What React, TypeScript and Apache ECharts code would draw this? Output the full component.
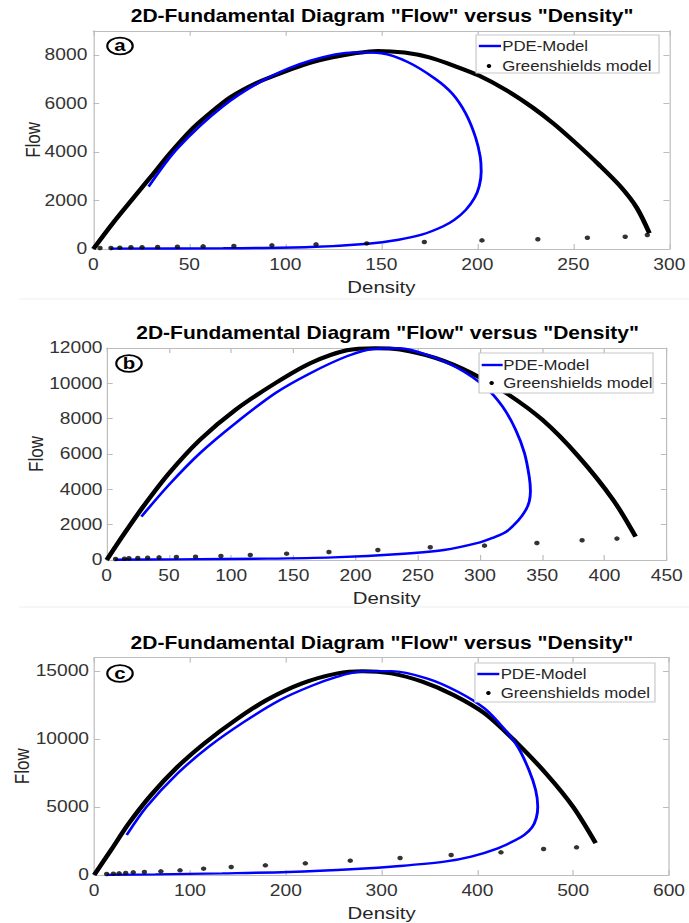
import React, { useEffect, useRef } from "react";
import * as echarts from "echarts";

// ---------------- data ----------------
// Panel (a)
const gsCurveA: number[][] = [[0, 0], [10, 1050], [20.8, 2100], [30, 2980], [40, 3950], [50.8, 4900], [60, 5550], [71.5, 6265], [85, 6850], [99, 7290], [112, 7650], [124.6, 7900], [137, 8080], [148, 8170], [162, 8100], [175, 7900], [188, 7550], [200.8, 7150], [215, 6550], [228.5, 5850], [240, 5150], [251.5, 4350], [263, 3500], [274.6, 2570], [283, 1700], [289.6, 650]];
const pdeA: number[][] = [[28.8, 2570], [43.8, 4145], [67, 5855], [90, 7020], [113, 7770], [136, 8110], [150, 8070], [164, 7700], [178, 7020], [187, 6400], [194, 5580], [199, 4620], [201.5, 3800], [202, 3200], [201, 2600], [198.5, 2100], [194, 1614], [188, 1200], [182, 930], [171, 590], [159, 383], [143, 219], [113, 82], [67, 27], [9, 14]];
const gsDotsA: number[][] = [[3.5, 40], [9.2, 40], [13.8, 55], [19.6, 70], [25.4, 70], [33.5, 80], [43.8, 95], [57.2, 110], [73.2, 125], [93, 150], [116, 190], [142.4, 230], [172.4, 290], [202.4, 355], [231.5, 405], [257.3, 465], [277, 505], [288.5, 575]];

// Panel (b)
const gsCurveB: number[][] = [[0, 0], [14.3, 1512], [28.6, 2950], [50, 4900], [75, 6805], [103.6, 8507], [135.7, 10019], [164, 11153], [193, 11871], [216, 11990], [235.7, 11909], [264, 11437], [293, 10586], [321, 9452], [350, 7940], [378.6, 5900], [407, 3400], [425, 1320]];
const pdeB: number[][] = [[27.9, 2457], [50, 4253], [75, 6049], [103.6, 7750], [135.7, 9452], [164, 10586], [193, 11531], [214, 11947], [235.7, 11990], [257, 11626], [282, 10870], [303.6, 9830], [318, 8696], [328.6, 7372], [335.7, 6049], [339.5, 4726], [340.5, 3900], [339.5, 3300], [336.5, 2800], [331, 2268], [321, 1600], [310, 1250], [300, 1000], [271, 567], [235.7, 340], [182, 151], [128.6, 76], [57, 38], [7, 10]];
const gsDotsB: number[][] = [[7.1, 57], [14.3, 76], [17.9, 95], [25, 113], [32.9, 132], [42.1, 151], [56, 170], [71.4, 189], [91.8, 227], [115.4, 284], [144.6, 359], [178.6, 454], [217.9, 567], [260, 719], [303.6, 813], [345.7, 964], [382, 1115], [410, 1210]];

// Panel (c)
const gsCurveC: number[][] = [[0, 0], [17.6, 1838], [36.2, 3799], [59.4, 5882], [87.2, 7966], [115, 9681], [147.6, 11397], [180, 12868], [217, 14093], [254, 14828], [280, 14990], [310, 14828], [342.5, 14216], [375, 13235], [407.4, 11887], [440, 9800], [472.4, 7400], [500, 5000], [523.4, 2350]];
const pdeC: number[][] = [[33.9, 2941], [54.8, 5024], [87.2, 7475], [119.7, 9436], [156.8, 11275], [194, 12868], [226.5, 13897], [254, 14583], [277.5, 14951], [310, 14990], [347, 14461], [379.6, 13480], [407.4, 12255], [426, 10907], [442, 9436], [453.8, 7721], [460.8, 6250], [463, 5024], [461.5, 4200], [457, 3500], [449, 2950], [440, 2573], [421.3, 1961], [393.5, 1348], [365.7, 980], [319, 662], [272.9, 441], [203, 221], [133.6, 123], [64, 49], [13, 10]];
const gsDotsC: number[][] = [[13, 74], [20, 98], [26, 123], [32.9, 147], [40.8, 196], [52.4, 221], [69.6, 270], [89.6, 343], [114.2, 466], [143, 588], [178.7, 711], [220.4, 858], [267.3, 1054], [319.3, 1250], [372.6, 1471], [424.6, 1667], [469.1, 1912], [503.5, 2034]];

const xMax = [300, 450, 600];
const xInterval = [50, 50, 100];
const yMax = [9000, 12000, 16000];
const yInterval = [2000, 2000, 5000];
const panelLetters = ["a", "b", "c"];
const titleText = '2D-Fundamental Diagram "Flow" versus "Density"';
const xName = "Density";
const yName = "Flow";
const legendNames = ["PDE-Model", "Greenshields model"];

// ---------------- layout ----------------
const S = 1.2; // the reference is horizontally stretched
const W = 689 / S;
const H = 923;
const FONT = "'Liberation Sans', Arial, Helvetica, sans-serif";
const AXC = "#bdbdbd";
const LBL = "#333333";

const grids = [
  { left: 77.75, top: 30.75, width: 481.4, height: 218.25 },
  { left: 88.9, top: 348, width: 466.7, height: 212 },
  { left: 78.5, top: 657.4, width: 479, height: 217.6 },
];
const yNameGap = [41.5, 50.5, 51.5];
const yLabelMargin = [5, 3.5, 4.3];
const titlePos = [
  { x: 318.4, y: 16 },
  { x: 323, y: 333 },
  { x: 318.3, y: 643 },
];
const letterPos = [
  { x: 100, y: 46 },
  { x: 107.5, y: 363.5 },
  { x: 100, y: 673.5 },
];
const legendBox = [
  { x: 396.7, y: 35, w: 152.5, h: 38, r1: 46, r2: 66, l1: 399, l2: 417.5, dot: 407.5, tx: 418.5 },
  { x: 399.2, y: 353, w: 145, h: 40, r1: 365, r2: 383, l1: 401.4, l2: 418.9, dot: 409.7, tx: 419.4 },
  { x: 395.8, y: 663, w: 150, h: 39, r1: 674, r2: 693, l1: 397.8, l2: 416.1, dot: 407, tx: 417.2 },
];

function buildOption() {
  const xAxis: any[] = [];
  const yAxis: any[] = [];
  const series: any[] = [];
  const graphic: any[] = [];
  const curves = [gsCurveA, gsCurveB, gsCurveC];
  const pdes = [pdeA, pdeB, pdeC];
  const dots = [gsDotsA, gsDotsB, gsDotsC];
  const plain = (v: number) => String(v);

  for (let i = 0; i < 3; i++) {
    const common = {
      gridIndex: i,
      type: "value",
      min: 0,
      splitLine: { show: false },
      axisLine: { show: true, onZero: false, lineStyle: { color: AXC, width: 1 } },
      axisTick: { show: true, inside: true, length: 5, lineStyle: { color: AXC, width: 1 } },
    };
    xAxis.push({
      ...common,
      max: xMax[i],
      interval: xInterval[i],
      position: "bottom",
      axisLabel: { color: LBL, fontSize: 16, fontFamily: FONT, margin: 8, formatter: plain },
      name: xName,
      nameLocation: "middle",
      nameGap: 30,
      nameMoveOverlap: false,
      nameTextStyle: { color: "#262626", fontSize: 17, fontFamily: FONT },
    });
    xAxis.push({
      ...common,
      max: xMax[i],
      interval: xInterval[i],
      position: "top",
      axisLabel: { show: false },
    });
    yAxis.push({
      ...common,
      max: yMax[i],
      interval: yInterval[i],
      position: "left",
      axisLabel: { color: LBL, fontSize: 16, fontFamily: FONT, margin: yLabelMargin[i], formatter: plain, showMaxLabel: yMax[i] % yInterval[i] === 0 },
      name: yName,
      nameLocation: "middle",
      nameGap: yNameGap[i],
      nameMoveOverlap: false,
      nameTextStyle: { color: "#262626", fontSize: 17, fontFamily: FONT },
    });
    yAxis.push({
      ...common,
      max: yMax[i],
      interval: yInterval[i],
      position: "right",
      axisLabel: { show: false },
    });

    series.push({
      name: "Greenshields curve " + panelLetters[i],
      type: "line",
      xAxisIndex: 2 * i,
      yAxisIndex: 2 * i,
      data: curves[i],
      smooth: 0.3,
      symbol: "none",
      lineStyle: { color: "#000000", width: 4 },
      z: 2,
    });
    series.push({
      name: legendNames[0],
      type: "line",
      xAxisIndex: 2 * i,
      yAxisIndex: 2 * i,
      data: pdes[i],
      smooth: 0.3,
      symbol: "none",
      lineStyle: { color: "#0000ff", width: 2.4 },
      z: 3,
    });
    series.push({
      name: legendNames[1],
      type: "scatter",
      xAxisIndex: 2 * i,
      yAxisIndex: 2 * i,
      data: dots[i],
      symbol: "circle",
      symbolSize: 4.5,
      itemStyle: { color: "#000000" },
      z: 4,
    });

    // title
    graphic.push({
      type: "text",
      x: titlePos[i].x,
      y: titlePos[i].y,
      style: {
        text: titleText,
        fontSize: 17.5,
        fontWeight: "bold",
        fontFamily: FONT,
        fill: "#000",
        align: "center",
        verticalAlign: "middle",
      },
    });
    // circled panel letter
    graphic.push({
      type: "ellipse",
      shape: { cx: letterPos[i].x, cy: letterPos[i].y, rx: 10.6, ry: 8.4 },
      style: { fill: "#ffffff", stroke: "#000000", lineWidth: 1.8 },
      z: 10,
    });
    graphic.push({
      type: "text",
      x: letterPos[i].x,
      y: letterPos[i].y - 0.5,
      style: {
        text: panelLetters[i],
        fontSize: 17,
        fontWeight: "bold",
        fontFamily: FONT,
        fill: "#000",
        align: "center",
        verticalAlign: "middle",
      },
      z: 11,
    });
    // legend
    const L = legendBox[i];
    graphic.push({
      type: "rect",
      shape: { x: L.x, y: L.y, width: L.w, height: L.h },
      style: { fill: "#ffffff", stroke: "#c8c8c8", lineWidth: 1 },
      z: 10,
    });
    graphic.push({
      type: "line",
      shape: { x1: L.l1, y1: L.r1, x2: L.l2, y2: L.r1 },
      style: { stroke: "#0000ff", lineWidth: 2.4 },
      z: 11,
    });
    graphic.push({
      type: "circle",
      shape: { cx: L.dot, cy: L.r2, r: 1.9 },
      style: { fill: "#000000" },
      z: 11,
    });
    graphic.push({
      type: "text",
      x: L.tx,
      y: L.r1,
      style: { text: legendNames[0], fontSize: 14, fontFamily: FONT, fill: "#262626", align: "left", verticalAlign: "middle" },
      z: 11,
    });
    graphic.push({
      type: "text",
      x: L.tx,
      y: L.r2,
      style: { text: legendNames[1], fontSize: 14, fontFamily: FONT, fill: "#262626", align: "left", verticalAlign: "middle" },
      z: 11,
    });
  }

  // faint separators between sub-figures
  graphic.push({ type: "line", shape: { x1: 16, y1: 299, x2: W, y2: 299 }, style: { stroke: "#ededed", lineWidth: 1 }, z: 0 });
  graphic.push({ type: "line", shape: { x1: 16, y1: 607, x2: W, y2: 607 }, style: { stroke: "#ededed", lineWidth: 1 }, z: 0 });

  return {
    animation: false,
    backgroundColor: "#ffffff",
    textStyle: { fontFamily: FONT },
    grid: grids.map((g) => ({ ...g, containLabel: false })),
    xAxis,
    yAxis,
    series,
    graphic,
  };
}

export default function App() {
  const ref = useRef<HTMLDivElement | null>(null);
  useEffect(() => {
    if (!ref.current) return;
    const chart = echarts.init(ref.current, undefined, { renderer: "svg", width: W, height: H });
    chart.setOption(buildOption() as any);
    return () => chart.dispose();
  }, []);
  return (
    <div style={{ position: "absolute", left: 0, top: 0, width: 689, height: H, overflow: "hidden", background: "#fff" }}>
      <div
        ref={ref}
        style={{ width: W, height: H, transform: `scaleX(${S})`, transformOrigin: "0 0" }}
      />
    </div>
  );
}
